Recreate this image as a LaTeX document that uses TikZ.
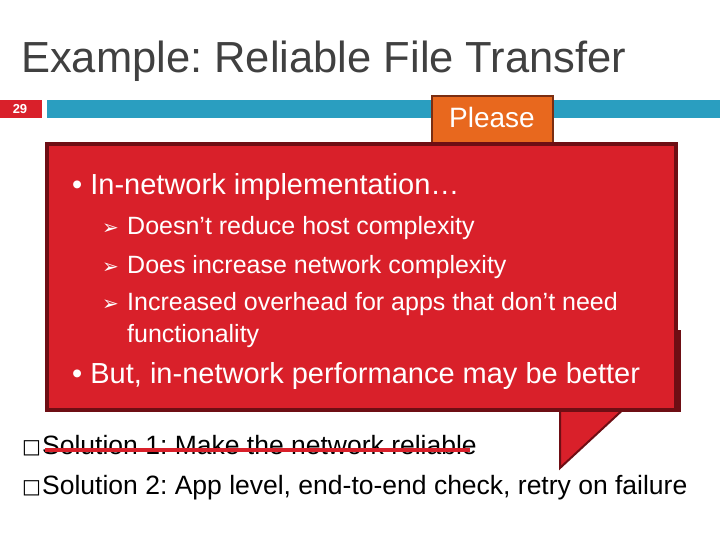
\documentclass[tikz,border=0pt]{standalone}
\usepackage{fontspec}
\setmainfont{Liberation Sans}
\newfontfamily\djsym{DejaVu Sans}
\frenchspacing
\definecolor{myred}{HTML}{D9202A}
\definecolor{dkred}{HTML}{6E0E14}
\definecolor{teal2}{HTML}{2A9EC0}
\definecolor{orng}{HTML}{E8681E}
\definecolor{brwn}{HTML}{7A2E12}
\definecolor{ttl}{HTML}{404040}
\begin{document}
\begin{tikzpicture}[x=1pt,y=-1pt,
  txt/.style={anchor=base west,inner sep=0pt,font=\fontsize{25}{27}\selectfont,text=white},
  hd/.style={anchor=base west,inner sep=0pt,font=\fontsize{29}{31}\selectfont,text=white},
  big/.style={anchor=base west,inner sep=0pt,font=\fontsize{26.5}{28}\selectfont},
  tip/.style={anchor=base west,inner sep=0pt,font=\djsym\fontsize{20}{22}\selectfont,text=white}]
\useasboundingbox (0,0) rectangle (720,540);
\fill[white] (0,0) rectangle (720,540);
\node[anchor=base west,inner sep=0pt,text=ttl,font=\fontsize{43.5}{46}\selectfont] (title) at (21,73) {Example: Reliable File Transfer};
\fill[teal2] (47,100) rectangle (720,118);
\fill[myred] (0,100) rectangle (42,118);
\node[text=white,font=\bfseries\fontsize{13}{14}\selectfont] (num) at (20,109) {29};
\draw[brwn,line width=2pt,fill=orng] (432,96) rectangle (553,150);
\node[text=white,font=\fontsize{28}{30}\selectfont] (please) at (492,117) {Please};
% bullets below
\node[anchor=base west,inner sep=0pt,font=\djsym\fontsize{20}{22}\selectfont] (b1) at (22,453) {□};
\node[anchor=base west,inner sep=0pt,font=\djsym\fontsize{20}{22}\selectfont] (b2) at (22,493) {□};
\node[big] (s1) at (42,454) {Solution 1: Make the network reliable};
\node[big] (s2) at (42,494) {Solution 2: App level, end-to-end check, retry on failure};
\draw[myred,line width=3.5pt] (45,450) -- (470,450);
% callout
\fill[dkred] (560,330) rectangle (681,412);
\draw[dkred,line width=2pt,fill=myred] (560,405) -- (560,468) -- (628,405);
\draw[dkred,line width=4pt,fill=myred] (47,144) rectangle (676,410);
\node[hd] (a) at (72,195) {• In-network implementation…};
\node[tip] (t1) at (102,235) {➢};
\node[txt] (l1) at (127,235) {Doesn’t reduce host complexity};
\node[tip] (t2) at (102,273) {➢};
\node[txt] (l2) at (127,273) {Does increase network complexity};
\node[tip] (t3) at (102,310) {➢};
\node[txt] (l3) at (127,310) {Increased overhead for apps that don’t need};
\node[txt] (l4) at (127,342) {functionality};
\node[hd] (b) at (72,383) {• But, in-network performance may be better};
\end{tikzpicture}
\end{document}
